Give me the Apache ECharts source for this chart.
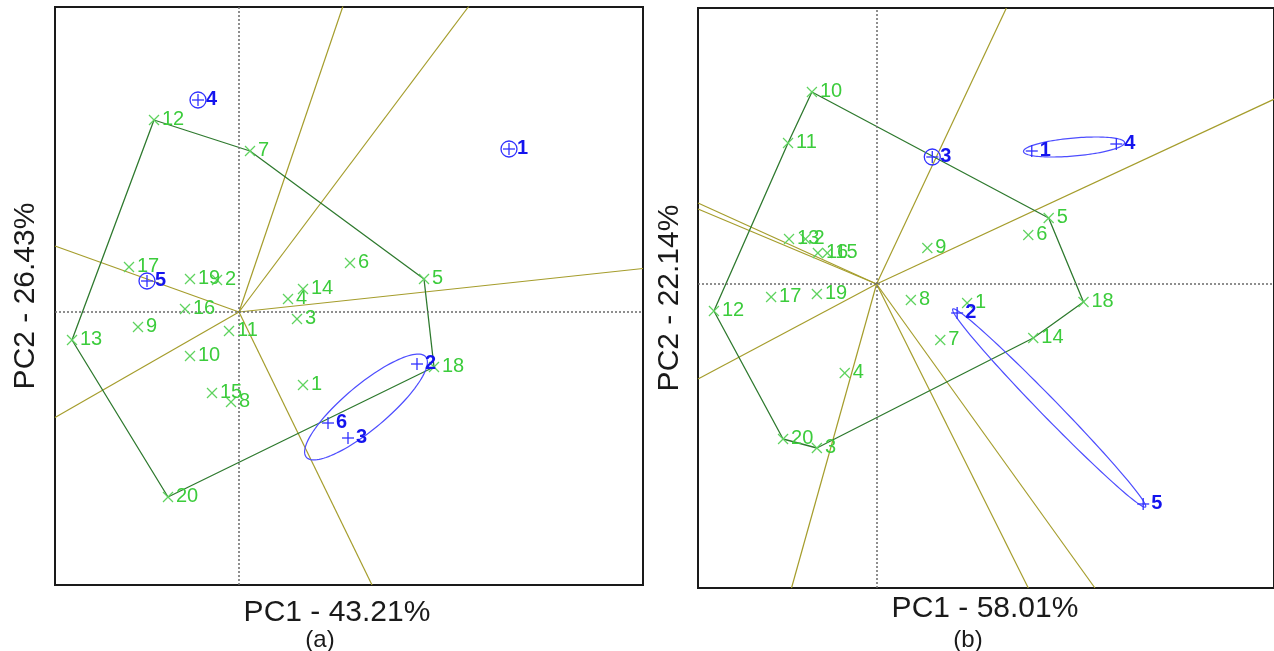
<!DOCTYPE html>
<html>
<head>
<meta charset="utf-8">
<script src="https://cdn.jsdelivr.net/npm/echarts@6/dist/echarts.min.js"></script>
<style>
  html, body { margin: 0; padding: 0; background: #ffffff; }
  #chart { width: 1274px; height: 651px; }
</style>
</head>
<body>
<div id="chart"></div>
<script>
// ---------- GGE biplot scores ----------
// Genotype labels (entries 1..20)
const genoLabels = ['1','2','3','4','5','6','7','8','9','10','11','12','13','14','15','16','17','18','19','20'];

// Panel (a): genotype scores [PC1, PC2]
const genoA = [
  [0.64,-0.73],[-0.22,0.32],[0.58,-0.07],[0.49,0.13],[1.85,0.33],
  [1.11,0.49],[0.11,1.61],[-0.08,-0.90],[-1.01,-0.15],[-0.49,-0.44],
  [-0.10,-0.19],[-0.85,1.92],[-1.67,-0.28],[0.64,0.23],[-0.27,-0.81],
  [-0.54,0.03],[-1.10,0.45],[1.95,-0.55],[-0.49,0.33],[-0.71,-1.85]
];
// Panel (a): environment scores and marker kinds
const envLabelsA = ['1','2','3','4','5','6'];
const envA = [[2.70,1.63],[1.78,-0.52],[1.09,-1.26],[-0.41,2.12],[-0.92,0.31],[0.89,-1.11]];
const envKindA = ['circle','plus','plus','circle','circle','plus'];
// Panel (a): convex hull vertices (genotype ids) and sector rays
const hullA = [12,7,5,18,20,13];
const raysA = [[1.04,3.06],[2.30,3.06],[4.04,0.435],[1.33,-2.73],[-1.84,-1.055],[-1.84,0.66]];
// Panel (a): mega-environment ellipses [cx, cy, semi-major, semi-minor, angle deg]
const ellipsesA = [[1.27,-0.95,0.78,0.22,40]];

// Panel (b): genotype scores [PC1, PC2]
const genoB = [
  [0.91,-0.19],[-0.715,0.45],[-0.60,-1.64],[-0.32,-0.89],[1.73,0.66],
  [1.525,0.49],[0.64,-0.56],[0.345,-0.16],[0.51,0.36],[-0.65,1.92],
  [-0.89,1.41],[-1.635,-0.27],[-0.88,0.45],[1.575,-0.54],[-0.495,0.31],
  [-0.59,0.31],[-1.06,-0.13],[2.08,-0.18],[-0.60,-0.10],[-0.94,-1.55]
];
const envLabelsB = ['1','2','3','4','5'];
const envB = [[1.56,1.33],[0.81,-0.29],[0.56,1.27],[2.41,1.40],[2.68,-2.20]];
const envKindB = ['plus','plus','circle','plus','plus'];
const hullB = [10,5,18,14,3,20,12,11];
const raysB = [[-1.795,0.81],[-1.795,0.75],[-1.795,-0.95],[1.305,2.76],[4.0,1.85],[1.525,-3.04],[2.195,-3.04],[-0.855,-3.04]];
const ellipsesB = [[1.985,1.37,0.51,0.09,5],[1.735,-1.24,1.385,0.09,-45.6]];

// ---------- styling ----------
const FONT = '"Liberation Sans", Arial, Helvetica, sans-serif';
const GREEN_TXT = '#3ccc3c';
const GREEN_MK = '#5fd35f';
const BLUE_TXT = '#1414ee';
const BLUE_MK = '#3030ff';
const HULL = '#2f7a2f';
const RAY = '#a59d2c';

function hullSeries(ids, geno, idx) {
  const pts = ids.map(id => geno[id - 1]);
  pts.push(pts[0]);
  return {
    type: 'line', xAxisIndex: idx, yAxisIndex: idx, data: pts,
    showSymbol: false, symbol: 'none', silent: true, z: 3,
    lineStyle: { color: HULL, width: 1.3 }
  };
}

function raySeries(rays, idx) {
  return rays.map((end, i) => ({
    type: 'line', xAxisIndex: idx, yAxisIndex: idx,
    data: [[0, 0], end], showSymbol: false, symbol: 'none', silent: true, z: 2,
    lineStyle: { color: RAY, width: 1.2 },
    markLine: i === 0 ? {
      silent: true, symbol: 'none', label: { show: false },
      lineStyle: { type: [2, 2], color: '#6a6a6a', width: 1.5 },
      data: [{ xAxis: 0 }, { yAxis: 0 }]
    } : undefined
  }));
}

function ellipseSeries(list, idx) {
  return {
    type: 'custom', xAxisIndex: idx, yAxisIndex: idx, silent: true, z: 4,
    data: list,
    renderItem: function (params, api) {
      const c = api.coord([api.value(0), api.value(1)]);
      const s = api.size([1, 1]);
      const a = api.value(2), b = api.value(3);
      const th = api.value(4) * Math.PI / 180;
      const pts = [];
      for (let k = 0; k < 120; k++) {
        const t = k / 120 * Math.PI * 2;
        const dx = a * Math.cos(t) * Math.cos(th) - b * Math.sin(t) * Math.sin(th);
        const dy = a * Math.cos(t) * Math.sin(th) + b * Math.sin(t) * Math.cos(th);
        pts.push([c[0] + dx * s[0], c[1] - dy * s[1]]);
      }
      return { type: 'polygon', shape: { points: pts },
        style: { fill: 'none', stroke: '#4d4dff', lineWidth: 1.2 } };
    }
  };
}

function genoSeries(geno, idx) {
  return {
    type: 'custom', xAxisIndex: idx, yAxisIndex: idx, silent: true, z: 6,
    data: geno,
    renderItem: function (params, api) {
      const p = api.coord([api.value(0), api.value(1)]);
      const h = 5;
      return { type: 'group', children: [
        { type: 'line', shape: { x1: p[0]-h, y1: p[1]-h, x2: p[0]+h, y2: p[1]+h },
          style: { stroke: GREEN_MK, lineWidth: 1.2 } },
        { type: 'line', shape: { x1: p[0]-h, y1: p[1]+h, x2: p[0]+h, y2: p[1]-h },
          style: { stroke: GREEN_MK, lineWidth: 1.2 } },
        { type: 'text', x: p[0] + 8, y: p[1] - 1,
          style: { text: genoLabels[params.dataIndex], fill: GREEN_TXT,
            font: '20px ' + FONT, align: 'left', verticalAlign: 'middle' } }
      ]};
    }
  };
}

function envSeries(env, labels, kinds, idx) {
  return {
    type: 'custom', xAxisIndex: idx, yAxisIndex: idx, silent: true, z: 7,
    data: env,
    renderItem: function (params, api) {
      const p = api.coord([api.value(0), api.value(1)]);
      const h = 6;
      const ch = [
        { type: 'line', shape: { x1: p[0]-h, y1: p[1], x2: p[0]+h, y2: p[1] },
          style: { stroke: BLUE_MK, lineWidth: 1.3 } },
        { type: 'line', shape: { x1: p[0], y1: p[1]-h, x2: p[0], y2: p[1]+h },
          style: { stroke: BLUE_MK, lineWidth: 1.3 } },
        { type: 'text', x: p[0] + 8, y: p[1] - 1,
          style: { text: labels[params.dataIndex], fill: BLUE_TXT,
            font: 'bold 20px ' + FONT, align: 'left', verticalAlign: 'middle' } }
      ];
      if (kinds[params.dataIndex] === 'circle') {
        ch.push({ type: 'circle', shape: { cx: p[0], cy: p[1], r: 8 },
          style: { fill: 'none', stroke: BLUE_MK, lineWidth: 1.3 } });
      }
      return { type: 'group', children: ch };
    }
  };
}

const hiddenAxis = {
  type: 'value', axisLine: { show: false }, axisTick: { show: false },
  axisLabel: { show: false }, splitLine: { show: false }
};

const titleStyle = (text, size) => ({ text: text, fill: '#1a1a1a',
  font: size + 'px ' + FONT, align: 'center', verticalAlign: 'middle' });

const chart = echarts.init(document.getElementById('chart'), null, { renderer: 'canvas' });
chart.setOption({
  animation: false,
  backgroundColor: '#ffffff',
  grid: [
    { left: 55, top: 7, width: 588, height: 578, show: true, borderColor: '#1a1a1a', borderWidth: 2, backgroundColor: 'transparent' },
    { left: 698, top: 8, width: 579, height: 580, show: true, borderColor: '#1a1a1a', borderWidth: 2, backgroundColor: 'transparent' }
  ],
  xAxis: [
    Object.assign({}, hiddenAxis, { gridIndex: 0, min: -1.84, max: 4.04 }),
    Object.assign({}, hiddenAxis, { gridIndex: 1, min: -1.795, max: 3.995 })
  ],
  yAxis: [
    Object.assign({}, hiddenAxis, { gridIndex: 0, min: -2.73, max: 3.05 }),
    Object.assign({}, hiddenAxis, { gridIndex: 1, min: -3.04, max: 2.76 })
  ],
  graphic: [
    { type: 'text', x: 337, y: 613, style: titleStyle('PC1 - 43.21%', 30) },
    { type: 'text', x: 320, y: 640, style: titleStyle('(a)', 24) },
    { type: 'text', x: 985, y: 609, style: titleStyle('PC1 - 58.01%', 30) },
    { type: 'text', x: 968, y: 640, style: titleStyle('(b)', 24) },
    { type: 'text', x: 26, y: 296, rotation: Math.PI / 2, style: titleStyle('PC2 - 26.43%', 30) },
    { type: 'text', x: 670, y: 298, rotation: Math.PI / 2, style: titleStyle('PC2 - 22.14%', 30) }
  ],
  series: [].concat(
    raySeries(raysA, 0),
    [hullSeries(hullA, genoA, 0), ellipseSeries(ellipsesA, 0), genoSeries(genoA, 0), envSeries(envA, envLabelsA, envKindA, 0)],
    raySeries(raysB, 1),
    [hullSeries(hullB, genoB, 1), ellipseSeries(ellipsesB, 1), genoSeries(genoB, 1), envSeries(envB, envLabelsB, envKindB, 1)]
  )
});
</script>
</body>
</html>
